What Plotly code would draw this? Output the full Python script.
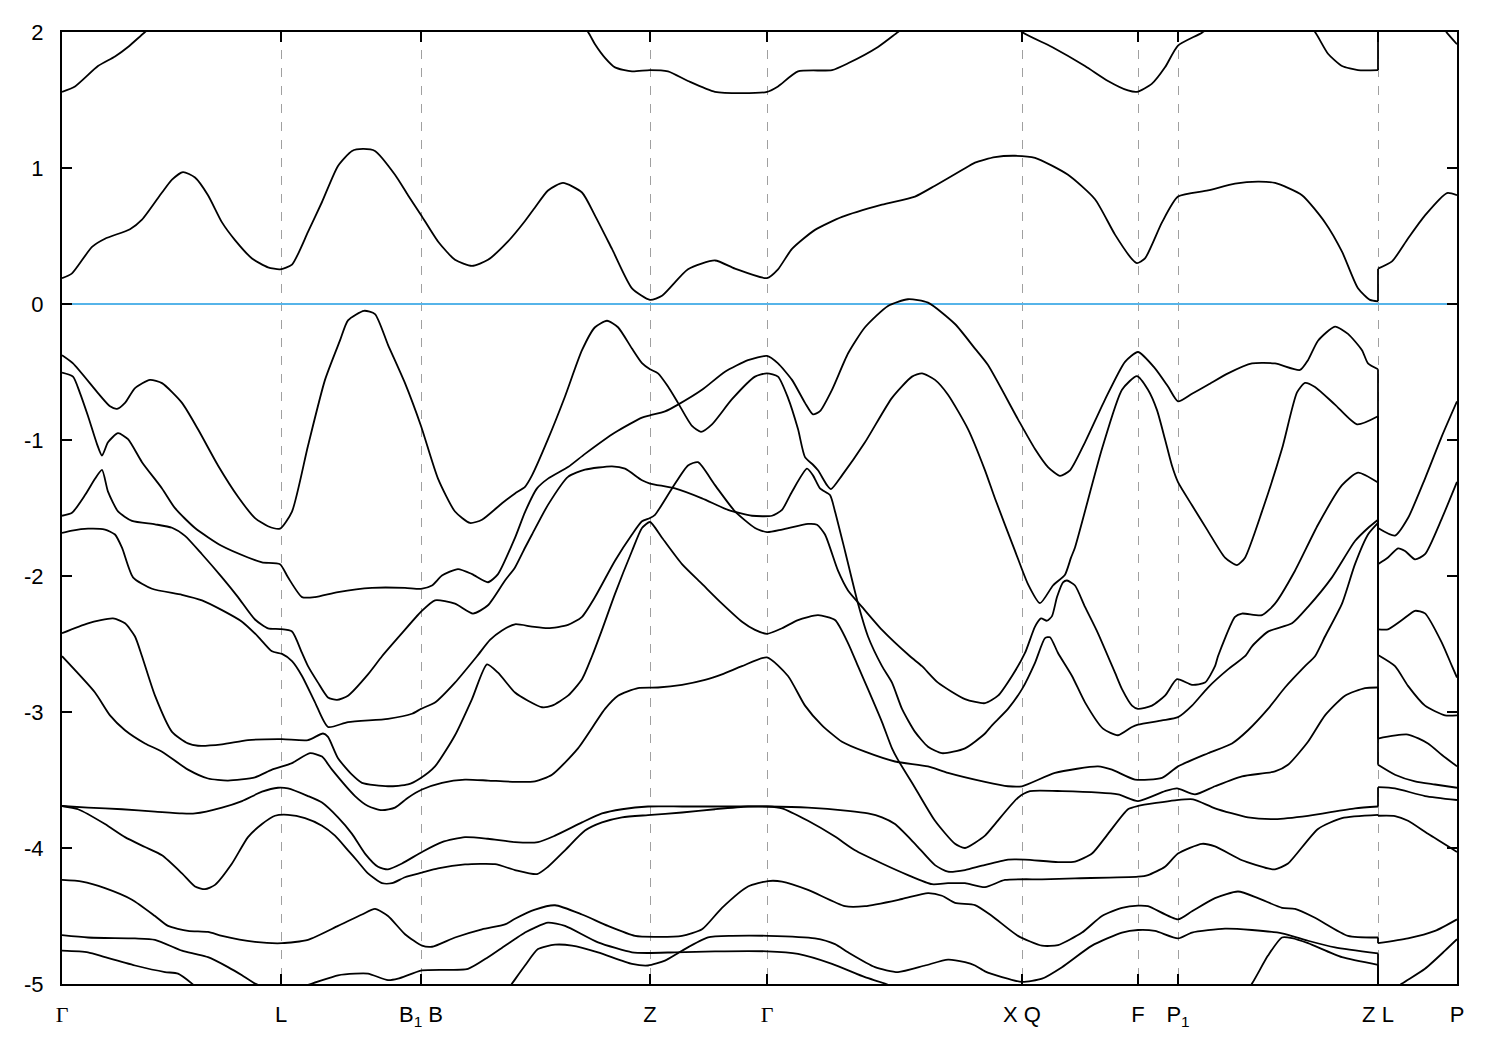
import plotly.graph_objects as go

# ---------------- axis data ----------------
kpath_ticks = [0.0, 2.19, 3.59, 5.88, 7.05, 9.60, 10.76, 11.16, 13.16, 13.95]
kpath_labels = ["<span style='font-family:Liberation Serif'>Γ</span>", "L", "B<sub>1</sub> B", "Z",
                "<span style='font-family:Liberation Serif'>Γ</span>", "X Q", "F", "P<sub>1</sub>", "Z L", "P"]
energy_ticks = [-5, -4, -3, -2, -1, 0, 1, 2]
fermi_level = 0.0

# ---------------- bands: main path  Γ-L-B1|B-Z-Γ-X|Q-F-P1-Z  (k, E) ----------------
band_c2 = [(0.00,1.56),(0.13,1.60),(0.36,1.75),(0.53,1.82),(0.66,1.89),(0.83,2.00),(1.08,2.15),(1.90,2.40),
           (4.80,2.30),(5.13,2.10),(5.26,2.00),(5.33,1.91),(5.43,1.81),(5.53,1.74),(5.70,1.71),(5.88,1.72),
           (6.06,1.71),(6.26,1.64),(6.53,1.56),(6.80,1.55),(7.05,1.56),(7.16,1.60),(7.36,1.71),(7.70,1.72),
           (7.86,1.77),(8.16,1.89),(8.36,2.00),(8.58,2.12),(9.20,2.25),(9.43,2.12),(9.60,2.00),(9.90,1.89),
           (10.23,1.75),(10.46,1.64),(10.66,1.57),(10.75,1.56),(10.90,1.62),(11.03,1.74),(11.16,1.90),
           (11.40,1.995),(11.60,2.10),(12.20,2.15),(12.43,2.07),(12.53,2.00),(12.66,1.84),(12.80,1.75),
           (12.96,1.72),(13.16,1.72)]
band_c1 = [(0.00,0.19),(0.10,0.225),(0.30,0.42),(0.43,0.48),(0.68,0.55),(0.80,0.62),(1.00,0.82),(1.10,0.915),
           (1.21,0.97),(1.33,0.93),(1.46,0.80),(1.60,0.60),(1.73,0.47),(1.90,0.335),(2.06,0.27),(2.18,0.255),
           (2.30,0.29),(2.46,0.53),(2.60,0.75),(2.76,1.015),(2.90,1.125),(3.01,1.14),(3.13,1.125),(3.33,0.95),
           (3.46,0.80),(3.59,0.655),(3.76,0.46),(3.93,0.325),(4.10,0.28),(4.26,0.325),(4.46,0.46),(4.63,0.61),
           (4.73,0.71),(4.86,0.835),(5.01,0.89),(5.20,0.82),(5.33,0.65),(5.50,0.405),(5.70,0.115),(5.88,0.03),
           (6.00,0.06),(6.26,0.255),(6.53,0.32),(6.73,0.26),(7.05,0.19),(7.16,0.255),(7.30,0.405),(7.53,0.545),
           (7.80,0.64),(8.20,0.73),(8.53,0.79),(8.73,0.87),(9.00,0.985),(9.13,1.04),(9.33,1.08),(9.53,1.09),
           (9.73,1.075),(10.06,0.95),(10.33,0.77),(10.53,0.51),(10.70,0.33),(10.75,0.30),(10.83,0.335),
           (11.00,0.60),(11.16,0.79),(11.46,0.835),(11.73,0.885),(11.96,0.90),(12.13,0.89),(12.40,0.80),
           (12.63,0.60),(12.80,0.385),(12.96,0.115),(13.08,0.03),(13.16,0.02)]
band_vb = [(0.00,-0.505),(0.11,-0.534),(0.18,-0.655),(0.26,-0.824),(0.35,-1.03),(0.40,-1.115),(0.46,-1.017),
           (0.56,-0.95),(0.66,-0.994),(0.80,-1.163),(1.00,-1.356),(1.13,-1.501),(1.33,-1.647),(1.60,-1.78),
           (1.86,-1.864),(2.00,-1.90),(2.18,-1.913),(2.26,-2.01),(2.40,-2.155),(2.53,-2.155),(2.76,-2.118),
           (3.10,-2.087),(3.43,-2.087),(3.59,-2.094),(3.70,-2.07),(3.80,-1.997),(3.96,-1.949),(4.10,-1.986),
           (4.26,-2.046),(4.36,-1.986),(4.53,-1.719),(4.63,-1.53),(4.75,-1.356),(4.86,-1.284),(5.06,-1.199),
           (5.23,-1.102),(5.53,-0.945),(5.80,-0.835),(5.88,-0.819),(6.03,-0.79),(6.16,-0.74),(6.40,-0.631),
           (6.63,-0.498),(6.86,-0.413),(7.05,-0.382),(7.16,-0.437),(7.30,-0.558),(7.43,-0.727),(7.51,-0.812),
           (7.58,-0.788),(7.70,-0.631),(7.86,-0.364),(8.03,-0.171),(8.26,-0.014),(8.46,0.035),(8.66,0.01),
           (8.93,-0.147),(9.13,-0.328),(9.26,-0.449),(9.56,-0.848),(9.73,-1.066),(9.86,-1.199),(9.98,-1.264),
           (10.08,-1.223),(10.23,-1.017),(10.43,-0.703),(10.63,-0.425),(10.76,-0.353),(10.93,-0.473),
           (11.06,-0.607),(11.16,-0.716),(11.30,-0.66),(11.46,-0.594),(11.66,-0.51),(11.90,-0.437),
           (12.13,-0.437),(12.38,-0.485),(12.46,-0.413),(12.56,-0.27),(12.73,-0.166),(12.86,-0.22),
           (13.00,-0.34),(13.06,-0.437),(13.16,-0.48)]
band_va = [(0.00,-0.377),(0.11,-0.437),(0.36,-0.655),(0.48,-0.752),(0.55,-0.771),(0.63,-0.727),(0.73,-0.618),
           (0.88,-0.558),(1.00,-0.582),(1.20,-0.727),(1.36,-0.921),(1.56,-1.187),(1.76,-1.417),(1.93,-1.574),
           (2.06,-1.634),(2.18,-1.652),(2.30,-1.526),(2.46,-1.042),(2.63,-0.558),(2.78,-0.268),(2.86,-0.12),
           (3.02,-0.05),(3.13,-0.074),(3.26,-0.30),(3.43,-0.582),(3.59,-0.897),(3.76,-1.284),(3.93,-1.526),
           (4.08,-1.61),(4.20,-1.586),(4.40,-1.465),(4.53,-1.393),(4.63,-1.344),(4.70,-1.26),(4.86,-0.994),
           (5.03,-0.68),(5.20,-0.34),(5.33,-0.171),(5.45,-0.123),(5.56,-0.171),(5.70,-0.328),(5.80,-0.435),
           (5.88,-0.48),(5.96,-0.51),(6.06,-0.607),(6.16,-0.727),(6.30,-0.897),(6.39,-0.94),(6.50,-0.885),
           (6.70,-0.70),(6.93,-0.534),(7.05,-0.51),(7.16,-0.534),(7.26,-0.69),(7.36,-0.92),(7.43,-1.126),
           (7.51,-1.182),(7.56,-1.223),(7.65,-1.332),(7.69,-1.361),(7.80,-1.26),(8.03,-1.017),(8.30,-0.69),
           (8.50,-0.534),(8.60,-0.51),(8.73,-0.558),(8.86,-0.667),(9.06,-0.92),(9.23,-1.223),(9.33,-1.43),
           (9.53,-1.815),(9.66,-2.06),(9.78,-2.20),(9.91,-2.07),(10.03,-1.99),(10.09,-1.865),(10.13,-1.79),
           (10.40,-1.065),(10.60,-0.63),(10.75,-0.53),(10.86,-0.63),(10.95,-0.78),(11.03,-0.995),(11.10,-1.19),
           (11.16,-1.31),(11.30,-1.48),(11.46,-1.67),(11.63,-1.865),(11.75,-1.92),(11.83,-1.865),(12.00,-1.525),
           (12.20,-1.065),(12.35,-0.65),(12.43,-0.58),(12.53,-0.61),(12.73,-0.74),(12.95,-0.885),(13.16,-0.825)]
band_vc = [(0.00,-1.557),(0.10,-1.535),(0.23,-1.405),(0.33,-1.285),(0.40,-1.22),(0.46,-1.38),(0.56,-1.525),
           (0.70,-1.595),(0.93,-1.62),(1.10,-1.645),(1.23,-1.705),(1.40,-1.84),(1.60,-2.01),(1.76,-2.155),
           (1.93,-2.32),(2.06,-2.385),(2.18,-2.39),(2.30,-2.408),(2.40,-2.566),(2.46,-2.663),(2.56,-2.784),
           (2.66,-2.893),(2.75,-2.911),(2.86,-2.88),(3.06,-2.723),(3.20,-2.59),(3.40,-2.42),(3.59,-2.263),
           (3.73,-2.179),(3.93,-2.203),(4.11,-2.276),(4.26,-2.215),(4.43,-2.033),(4.53,-1.937),(4.63,-1.792),
           (4.70,-1.695),(4.86,-1.477),(5.06,-1.271),(5.23,-1.218),(5.50,-1.194),(5.63,-1.211),(5.80,-1.296),
           (5.88,-1.32),(6.13,-1.356),(6.40,-1.429),(6.66,-1.514),(6.90,-1.557),(7.10,-1.557),(7.20,-1.514),
           (7.30,-1.38),(7.45,-1.211),(7.51,-1.26),(7.58,-1.356),(7.68,-1.405),(7.73,-1.525),(7.83,-1.816),
           (7.96,-2.203),(8.06,-2.445),(8.20,-2.663),(8.30,-2.784),(8.40,-2.977),(8.53,-3.146),(8.66,-3.255),
           (8.80,-3.303),(9.03,-3.267),(9.23,-3.158),(9.30,-3.098),(9.46,-2.977),(9.60,-2.832),(9.73,-2.638),
           (9.83,-2.457),(9.88,-2.45),(9.96,-2.566),(10.10,-2.735),(10.23,-2.929),(10.41,-3.122),(10.56,-3.171),
           (10.70,-3.11),(10.76,-3.093),(11.00,-3.062),(11.16,-3.038),(11.30,-2.953),(11.46,-2.82),
           (11.66,-2.687),(11.83,-2.59),(11.90,-2.517),(12.06,-2.409),(12.30,-2.348),(12.46,-2.227),
           (12.70,-2.01),(12.93,-1.743),(13.06,-1.647),(13.16,-1.586)]
band_vd = [(0.00,-1.683),(0.10,-1.666),(0.26,-1.652),(0.43,-1.659),(0.53,-1.695),(0.60,-1.792),(0.71,-2.01),
           (0.90,-2.094),(1.20,-2.138),(1.40,-2.179),(1.60,-2.251),(1.80,-2.336),(1.96,-2.445),(2.10,-2.554),
           (2.20,-2.573),(2.30,-2.626),(2.40,-2.735),(2.53,-2.929),(2.66,-3.11),(2.86,-3.074),(3.26,-3.05),
           (3.50,-3.013),(3.59,-2.977),(3.73,-2.93),(3.93,-2.784),(4.15,-2.59),(4.28,-2.47),(4.40,-2.40),
           (4.53,-2.355),(4.70,-2.372),(4.86,-2.384),(5.06,-2.36),(5.20,-2.30),(5.33,-2.155),(5.53,-1.888),
           (5.70,-1.695),(5.80,-1.598),(5.88,-1.574),(5.93,-1.55),(6.10,-1.356),(6.26,-1.187),(6.36,-1.163),
           (6.53,-1.332),(6.73,-1.525),(6.93,-1.647),(7.05,-1.678),(7.20,-1.659),(7.46,-1.617),(7.55,-1.623),
           (7.63,-1.695),(7.76,-1.961),(7.86,-2.106),(8.00,-2.227),(8.20,-2.396),(8.48,-2.59),(8.60,-2.663),
           (8.76,-2.784),(9.03,-2.905),(9.23,-2.935),(9.36,-2.88),(9.50,-2.735),(9.63,-2.566),(9.73,-2.372),
           (9.79,-2.312),(9.85,-2.329),(9.90,-2.295),(9.95,-2.155),(10.01,-2.046),(10.05,-2.033),(10.13,-2.07),
           (10.23,-2.227),(10.36,-2.421),(10.53,-2.711),(10.60,-2.832),(10.70,-2.953),(10.76,-2.977),
           (10.90,-2.953),(11.03,-2.88),(11.15,-2.759),(11.30,-2.80),(11.43,-2.784),(11.53,-2.663),
           (11.56,-2.59),(11.73,-2.30),(11.80,-2.276),(12.00,-2.288),(12.13,-2.203),(12.33,-1.961),
           (12.56,-1.623),(12.80,-1.332),(12.96,-1.24),(13.16,-1.313)]
band_ve = [(0.00,-2.421),(0.26,-2.348),(0.51,-2.312),(0.63,-2.348),(0.73,-2.445),(0.80,-2.59),(0.93,-2.88),
           (1.10,-3.146),(1.26,-3.231),(1.36,-3.248),(1.60,-3.238),(1.86,-3.207),(2.20,-3.20),(2.46,-3.207),
           (2.61,-3.158),(2.66,-3.183),(2.76,-3.34),(2.90,-3.461),(3.00,-3.521),(3.26,-3.546),(3.46,-3.533),
           (3.58,-3.489),(3.73,-3.40),(3.93,-3.171),(4.10,-2.905),(4.25,-2.65),(4.36,-2.711),(4.53,-2.857),
           (4.66,-2.917),(4.80,-2.965),(4.90,-2.953),(5.06,-2.88),(5.20,-2.759),(5.30,-2.59),(5.40,-2.396),
           (5.53,-2.131),(5.70,-1.816),(5.80,-1.647),(5.88,-1.603),(6.00,-1.719),(6.20,-1.913),(6.40,-2.058),
           (6.60,-2.203),(6.80,-2.336),(6.93,-2.396),(7.05,-2.425),(7.20,-2.384),(7.36,-2.324),(7.56,-2.288),
           (7.73,-2.324),(7.86,-2.493),(7.96,-2.663),(8.06,-2.832),(8.20,-3.074),(8.30,-3.267),(8.36,-3.352),
           (8.53,-3.557),(8.73,-3.80),(8.93,-3.969),(9.03,-4.0),(9.23,-3.909),(9.33,-3.824),(9.56,-3.63),
           (9.68,-3.582),(10.00,-3.582),(10.56,-3.606),(10.76,-3.655),(11.03,-3.582),(11.15,-3.562),
           (11.33,-3.606),(11.53,-3.546),(11.80,-3.473),(12.13,-3.437),(12.26,-3.388),(12.46,-3.219),
           (12.63,-3.025),(12.83,-2.88),(13.03,-2.824),(13.16,-2.82)]
band_vf = [(0.00,-2.59),(0.33,-2.857),(0.48,-3.025),(0.63,-3.134),(0.83,-3.231),(1.00,-3.292),(1.26,-3.424),
           (1.46,-3.489),(1.66,-3.504),(1.93,-3.48),(2.10,-3.424),(2.30,-3.376),(2.48,-3.303),(2.60,-3.328),
           (2.70,-3.424),(2.93,-3.618),(3.06,-3.691),(3.20,-3.722),(3.33,-3.703),(3.46,-3.63),(3.60,-3.57),
           (3.80,-3.521),(4.03,-3.497),(4.26,-3.504),(4.53,-3.514),(4.73,-3.51),(4.90,-3.461),(5.16,-3.267),
           (5.43,-2.977),(5.56,-2.88),(5.76,-2.824),(5.96,-2.82),(6.20,-2.80),(6.43,-2.764),(6.60,-2.723),
           (6.80,-2.663),(7.05,-2.598),(7.26,-2.735),(7.43,-2.953),(7.60,-3.098),(7.80,-3.219),(8.03,-3.292),
           (8.33,-3.364),(8.66,-3.40),(8.86,-3.448),(9.23,-3.514),(9.46,-3.546),(9.60,-3.546),(9.93,-3.448),
           (10.36,-3.40),(10.50,-3.424),(10.73,-3.497),(11.00,-3.485),(11.16,-3.40),(11.46,-3.303),
           (11.70,-3.231),(11.86,-3.134),(12.06,-2.977),(12.23,-2.82),(12.43,-2.663),(12.53,-2.59),
           (12.63,-2.445),(12.80,-2.203),(12.93,-1.913),(13.06,-1.695),(13.16,-1.61)]
band_vg = [(0.00,-3.691),(0.26,-3.703),(0.60,-3.715),(0.93,-3.732),(1.20,-3.746),(1.33,-3.746),(1.60,-3.703),
           (1.80,-3.655),(2.00,-3.586),(2.16,-3.557),(2.26,-3.562),(2.46,-3.618),(2.60,-3.666),(2.76,-3.775),
           (2.90,-3.896),(3.03,-4.041),(3.16,-4.138),(3.26,-4.157),(3.40,-4.114),(3.60,-4.029),(3.80,-3.957),
           (4.03,-3.92),(4.26,-3.932),(4.53,-3.957),(4.76,-3.957),(4.93,-3.909),(5.20,-3.812),(5.40,-3.746),
           (5.60,-3.715),(5.86,-3.695),(6.20,-3.695),(6.53,-3.695),(7.05,-3.695),(7.46,-3.703),(7.86,-3.727),
           (8.06,-3.746),(8.20,-3.775),(8.33,-3.824),(8.53,-3.969),(8.73,-4.126),(8.86,-4.174),(9.03,-4.162),
           (9.20,-4.13),(9.46,-4.085),(9.63,-4.085),(9.96,-4.104),(10.13,-4.10),(10.30,-4.041),(10.46,-3.896),
           (10.66,-3.715),(10.76,-3.691),(11.13,-3.65),(11.31,-3.642),(11.53,-3.708),(11.86,-3.775),
           (12.13,-3.787),(12.46,-3.763),(12.93,-3.708),(13.16,-3.695)]
band_vh = [(0.00,-3.691),(0.16,-3.715),(0.43,-3.824),(0.63,-3.92),(0.83,-3.993),(1.00,-4.054),(1.20,-4.187),
           (1.33,-4.283),(1.43,-4.303),(1.53,-4.271),(1.70,-4.114),(1.86,-3.92),(2.00,-3.824),(2.13,-3.763),
           (2.26,-3.756),(2.43,-3.78),(2.60,-3.836),(2.73,-3.909),(2.86,-4.017),(2.96,-4.101),(3.06,-4.187),
           (3.20,-4.259),(3.30,-4.259),(3.43,-4.215),(3.60,-4.181),(3.76,-4.15),(4.03,-4.121),(4.33,-4.119),
           (4.53,-4.162),(4.75,-4.192),(4.86,-4.138),(5.03,-4.017),(5.23,-3.872),(5.40,-3.812),(5.60,-3.775),
           (5.86,-3.758),(6.20,-3.739),(6.53,-3.715),(6.86,-3.695),(7.05,-3.695),(7.20,-3.708),(7.46,-3.80),
           (7.73,-3.916),(7.93,-4.017),(8.20,-4.114),(8.46,-4.199),(8.70,-4.266),(8.86,-4.259),(9.03,-4.259),
           (9.23,-4.288),(9.43,-4.235),(9.80,-4.23),(10.13,-4.223),(10.76,-4.211),(10.86,-4.199),(11.03,-4.138),
           (11.16,-4.041),(11.40,-3.969),(11.53,-3.988),(11.80,-4.09),(12.06,-4.15),(12.13,-4.157),
           (12.26,-4.114),(12.56,-3.86),(12.80,-3.78),(13.16,-3.756)]
band_vi = [(0.00,-4.235),(0.20,-4.247),(0.43,-4.295),(0.70,-4.38),(0.93,-4.50),(1.06,-4.573),(1.26,-4.609),
           (1.46,-4.617),(1.60,-4.646),(1.93,-4.69),(2.20,-4.70),(2.46,-4.675),(2.76,-4.573),(3.00,-4.489),
           (3.13,-4.448),(3.26,-4.50),(3.43,-4.634),(3.60,-4.718),(3.70,-4.726),(3.93,-4.658),(4.20,-4.598),
           (4.43,-4.562),(4.53,-4.52),(4.73,-4.453),(4.93,-4.421),(5.20,-4.489),(5.46,-4.573),(5.73,-4.646),
           (5.93,-4.653),(6.20,-4.646),(6.40,-4.598),(6.60,-4.44),(6.86,-4.283),(7.06,-4.243),(7.20,-4.247),
           (7.46,-4.308),(7.83,-4.428),(8.03,-4.428),(8.40,-4.375),(8.66,-4.332),(8.80,-4.351),(8.93,-4.404),
           (9.13,-4.42),(9.30,-4.50),(9.56,-4.646),(9.80,-4.718),(9.96,-4.714),(10.20,-4.622),(10.40,-4.50),
           (10.60,-4.44),(10.76,-4.424),(10.86,-4.428),(11.16,-4.525),(11.30,-4.465),(11.53,-4.368),
           (11.76,-4.32),(11.96,-4.368),(12.20,-4.44),(12.33,-4.448),(12.53,-4.513),(12.86,-4.646),(13.16,-4.658)]
band_vk = [(0.00,-4.755),(0.26,-4.767),(0.43,-4.803),(0.73,-4.864),(1.03,-4.912),(1.16,-4.924),(1.30,-4.997),
           (1.60,-5.20),(3.00,-5.45),(4.30,-5.20),(4.50,-4.997),(4.63,-4.864),(4.76,-4.743),(4.93,-4.711),
           (5.10,-4.718),(5.36,-4.767),(5.70,-4.852),(5.86,-4.864),(6.03,-4.828),(6.20,-4.755),(6.46,-4.658),
           (6.70,-4.646),(7.06,-4.646),(7.53,-4.665),(7.73,-4.707),(7.86,-4.767),(8.13,-4.876),(8.36,-4.912),
           (8.63,-4.864),(8.86,-4.821),(9.03,-4.84),(9.13,-4.864),(9.23,-4.907),(9.40,-4.949),(9.60,-4.985),
           (9.80,-4.961),(10.00,-4.876),(10.30,-4.718),(10.60,-4.622),(10.76,-4.603),(10.93,-4.61),
           (11.16,-4.665),(11.30,-4.622),(11.63,-4.593),(11.90,-4.603),(12.20,-4.627),(12.46,-4.682),
           (12.73,-4.731),(13.16,-4.775)]
band_vj = [(0.00,-4.641),(0.26,-4.658),(0.73,-4.665),(0.93,-4.675),(1.20,-4.755),(1.33,-4.779),(1.46,-4.803),
           (1.66,-4.876),(1.80,-4.936),(1.93,-4.997),(2.20,-5.06),(2.50,-4.997),(2.76,-4.936),(2.93,-4.924),
           (3.06,-4.924),(3.26,-4.972),(3.36,-4.961),(3.60,-4.90),(4.06,-4.888),(4.26,-4.803),(4.43,-4.718),
           (4.53,-4.67),(4.63,-4.622),(4.73,-4.585),(4.86,-4.549),(5.03,-4.573),(5.36,-4.694),(5.70,-4.767),
           (5.86,-4.772),(6.13,-4.767),(6.53,-4.76),(7.05,-4.76),(7.36,-4.779),(7.70,-4.852),(8.03,-4.95),
           (8.23,-4.997),(8.60,-5.12),(9.60,-5.35),(10.80,-5.40),(11.70,-5.20),(11.90,-4.997),(12.06,-4.791),
           (12.20,-4.658),(12.30,-4.663),(12.46,-4.70),(12.80,-4.803),(13.16,-4.859)]

# ---------------- bands: L-P segment (after the Z|L break) ----------------
lp_c2 = [(13.16,2.25),(13.50,2.20),(13.78,2.06),(13.85,1.994),(13.95,1.91)]
lp_c1 = [(13.16,0.26),(13.30,0.313),(13.46,0.482),(13.63,0.652),(13.85,0.816),(13.95,0.80)]
lp_1 = [(13.16,-1.647),(13.33,-1.703),(13.46,-1.574),(13.63,-1.284),(13.80,-0.97),(13.95,-0.716)]
lp_2 = [(13.16,-1.913),(13.26,-1.864),(13.36,-1.797),(13.43,-1.816),(13.53,-1.877),(13.63,-1.84),
        (13.80,-1.574),(13.95,-1.308)]
lp_3 = [(13.16,-2.392),(13.26,-2.392),(13.40,-2.324),(13.53,-2.256),(13.63,-2.275),(13.80,-2.493),
        (13.90,-2.663),(13.95,-2.747)]
lp_4 = [(13.16,-2.581),(13.33,-2.663),(13.46,-2.808),(13.63,-2.953),(13.83,-3.025),(13.95,-3.025)]
lp_5 = [(13.16,-3.195),(13.46,-3.166),(13.66,-3.231),(13.80,-3.316),(13.95,-3.40)]
lp_6 = [(13.16,-3.388),(13.33,-3.461),(13.53,-3.51),(13.73,-3.533),(13.95,-3.557)]
lp_7 = [(13.16,-3.553),(13.33,-3.562),(13.63,-3.618),(13.95,-3.647)]
lp_8 = [(13.16,-3.763),(13.33,-3.765),(13.46,-3.80),(13.66,-3.896),(13.95,-4.029)]
lp_9 = [(13.16,-4.70),(13.46,-4.665),(13.73,-4.61),(13.95,-4.525)]
lp_10 = [(13.16,-5.12),(13.40,-4.997),(13.63,-4.888),(13.83,-4.755),(13.95,-4.671)]
lp_11 = [(13.16,-5.50),(13.95,-5.50)]

main_bands = [band_c2, band_c1, band_vb, band_va, band_vd, band_vc, band_vf, band_ve,
              band_vg, band_vh, band_vi, band_vk, band_vj]
lp_bands = [lp_c2, lp_c1, lp_1, lp_2, lp_3, lp_4, lp_5, lp_6, lp_7, lp_8, lp_9, lp_10, lp_11]

line_style = dict(color="black", width=1.8)

fig = go.Figure()
# Fermi level across the whole k-path
fig.add_trace(go.Scatter(x=[kpath_ticks[0], kpath_ticks[-1]], y=[fermi_level, fermi_level], mode="lines",
                         line=dict(color="#56B4E9", width=2), hoverinfo="skip"))
for main, lp in zip(main_bands, lp_bands):
    fig.add_trace(go.Scatter(x=[p[0] for p in main], y=[p[1] for p in main], mode="lines",
                             line=dict(shape="spline", smoothing=0.6, **line_style), hoverinfo="skip"))
    fig.add_trace(go.Scatter(x=[p[0] for p in lp], y=[p[1] for p in lp], mode="lines",
                             line=dict(shape="spline", smoothing=0.6, **line_style), hoverinfo="skip"))
    # vertical join at the Z|L discontinuity
    fig.add_trace(go.Scatter(x=[main[-1][0], lp[0][0]], y=[main[-1][1], lp[0][1]], mode="lines",
                             line=dict(shape="linear", **line_style), hoverinfo="skip"))

tick_font = dict(family="Liberation Sans, Arial, sans-serif", size=22, color="black")
fig.update_layout(
    width=1484, height=1034,
    margin=dict(l=54, r=35, t=20, b=49),
    plot_bgcolor="white", paper_bgcolor="white",
    showlegend=False,
    xaxis=dict(range=[0, 13.95], tickmode="array", tickvals=kpath_ticks, ticktext=kpath_labels,
               ticks="inside", ticklen=10, tickwidth=2, tickcolor="black",
               showline=True, linecolor="black", linewidth=2, mirror="ticks",
               showgrid=True, gridcolor="#a0a0a0", griddash="dash", gridwidth=1,
               zeroline=False, tickfont=tick_font, ticklabelstandoff=10),
    yaxis=dict(range=[-5, 2], tickmode="array", tickvals=energy_ticks,
               ticktext=[str(v) for v in energy_ticks],
               ticks="inside", ticklen=10, tickwidth=2, tickcolor="black",
               showline=True, linecolor="black", linewidth=2, mirror="ticks",
               showgrid=False, zeroline=False, tickfont=tick_font, ticklabelstandoff=12),
)

fig.write_html("out.html")
